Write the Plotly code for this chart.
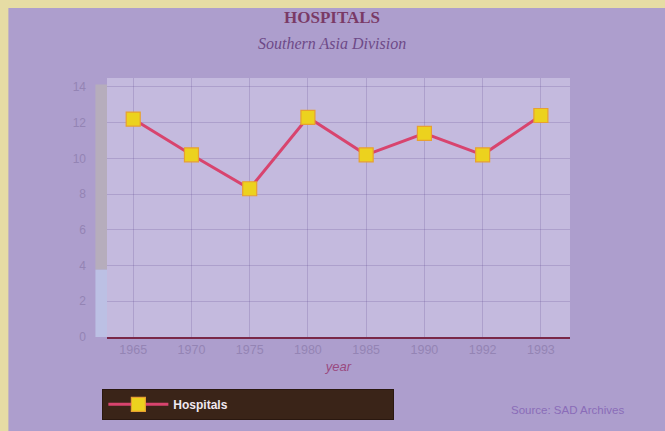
import plotly.graph_objects as go

years = ["1965", "1970", "1975", "1980", "1985", "1990", "1992", "1993"]
hospitals = [12.2, 10.2, 8.3, 12.3, 10.2, 11.4, 10.2, 12.4]
y_ticks = [0, 2, 4, 6, 8, 10, 12, 14]

fig = go.Figure()
fig.add_trace(go.Scatter(
    x=years, y=hospitals, mode="lines+markers", name="<b>Hospitals</b>",
    line=dict(color="#d8446e", width=3),
    marker=dict(symbol="square", size=14, color="#ecd21e",
                line=dict(color="#e8a030", width=1.2)),
))

fig.update_layout(
    width=665, height=431,
    margin=dict(l=107, r=95, t=78, b=94, autoexpand=False),
    paper_bgcolor="#ad9ecd",
    plot_bgcolor="#c4bade",
    font=dict(family="Liberation Sans, Arial, sans-serif", color="#9484b4", size=12),
    showlegend=True,
    legend=dict(
        orientation="h", x=-0.01, xanchor="left", y=-0.2, yanchor="top",
        bgcolor="#3a2418", bordercolor="#2a1810", borderwidth=1,
        font=dict(color="#f0e8f0", size=12, family="Liberation Sans, Arial, sans-serif"),
        entrywidth=215, itemwidth=60,
    ),
    xaxis=dict(
        type="category", range=[-0.45, 7.5], showgrid=True, automargin=False,
        gridcolor="rgba(90,70,140,0.22)", gridwidth=1,
        showline=True, linecolor="#7a2848", linewidth=2,
        ticks="", tickfont=dict(color="#9484b4", size=12.5),
        title=dict(text="<i>year</i>", font=dict(color="#9a4a80", size=13), standoff=6),
    ),
    yaxis=dict(
        range=[0, 14.5], tickvals=y_ticks, showgrid=True, automargin=False,
        gridcolor="rgba(90,70,140,0.22)", gridwidth=1,
        zeroline=False, showline=False, ticks="",
        ticklabelstandoff=20, tickfont=dict(color="#9484b4", size=12),
    ),
    shapes=[
        dict(type="rect", xref="paper", yref="paper", x0=-0.025, x1=0.0, y0=0.26, y1=0.975,
             fillcolor="#b6adbc", line=dict(width=0), layer="above"),
        dict(type="rect", xref="paper", yref="paper", x0=-0.025, x1=0.0, y0=0.0, y1=0.26,
             fillcolor="#bcc0e4", line=dict(width=0), layer="above"),
        dict(type="rect", xref="paper", yref="paper", x0=-0.5, x1=1.5, y0=1.27, y1=1.4,
             fillcolor="#e6dca4", line=dict(width=0), layer="below"),
        dict(type="rect", xref="paper", yref="paper", x0=-0.3, x1=-0.213, y0=-0.5, y1=1.4,
             fillcolor="#e6dca4", line=dict(width=0), layer="below"),
    ],
    annotations=[
        dict(text="<b>HOSPITALS</b>", xref="paper", yref="paper", x=0.485, y=1.232,
             xanchor="center", yanchor="middle", showarrow=False,
             font=dict(family="Liberation Serif, Times New Roman, serif", size=17, color="#7a3a66")),
        dict(text="<i>Southern Asia Division</i>", xref="paper", yref="paper", x=0.485, y=1.135,
             xanchor="center", yanchor="middle", showarrow=False,
             font=dict(family="Liberation Serif, Times New Roman, serif", size=16, color="#6e4a88")),
        dict(text="Source: SAD Archives", xref="paper", yref="paper", x=1.12, y=-0.282,
             xanchor="right", yanchor="middle", showarrow=False,
             font=dict(size=11.5, color="#8a6cb8")),
    ],
)

fig.write_html("out.html", post_script="document.body.style.margin='0';",
               config={"displayModeBar": False})
